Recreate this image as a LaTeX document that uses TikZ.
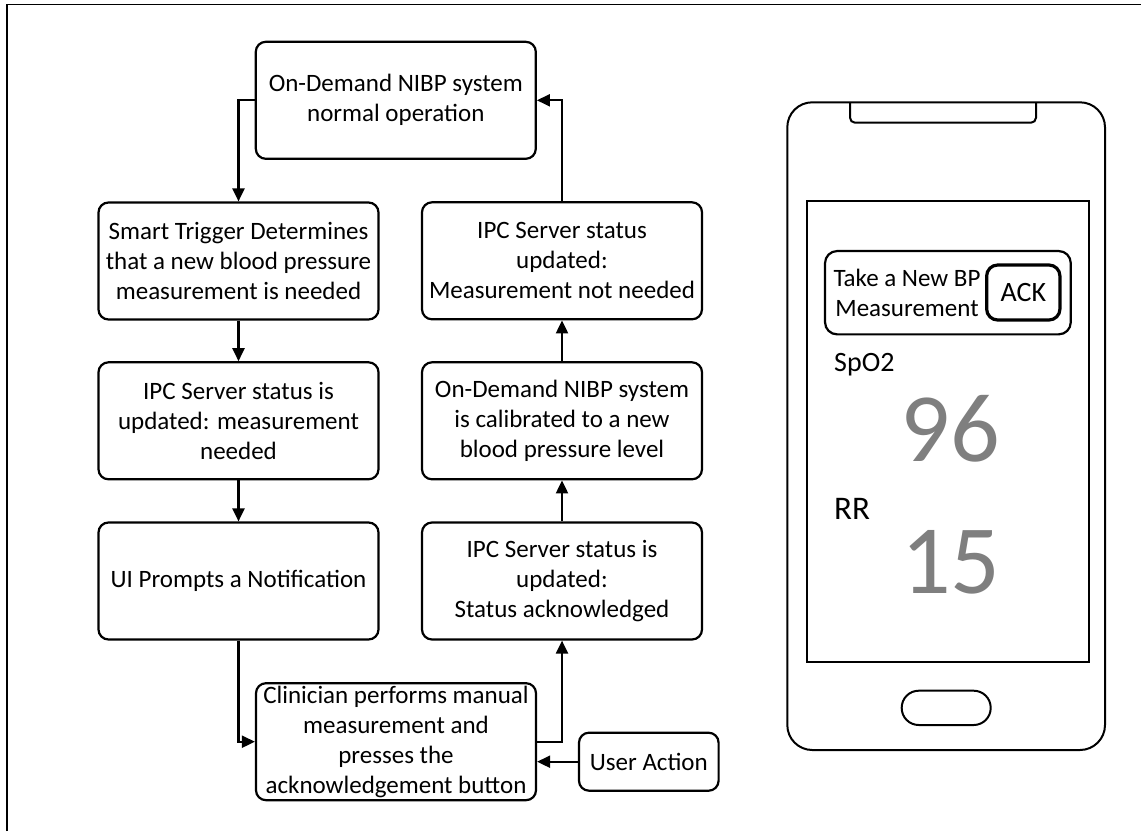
\documentclass[tikz,border=0pt]{standalone}
\usepackage{fontspec}
\setmainfont{Carlito}
\usetikzlibrary{arrows.meta}

\definecolor{valgray}{HTML}{7F7F7F}
\newcommand\boxfont{\fontsize{25}{30}\selectfont}

\begin{document}
\begin{tikzpicture}[x=1pt,y=-1pt,
  flow/.style={draw, line width=2.2pt, rounded corners=10pt, align=center,
    font=\boxfont, inner sep=0pt, minimum width=280pt, minimum height=117pt},
  conn/.style={line width=2.1pt, -{Triangle[length=13pt,width=12pt]}},
  phoneline/.style={line width=2pt},
  label/.style={inner sep=0pt, font=\boxfont, align=center},
  bigval/.style={inner sep=0pt, text=valgray, font=\fontsize{98}{98}\selectfont}
]
\useasboundingbox (0,0) rectangle (1141,831);

% frame lines along the top and left edges
\draw[line width=1.6pt] (7,831) -- (7,4.5) -- (1141,4.5);

% flowchart boxes
\node[flow] (top)  at (395.8,100.3) {On-Demand NIBP system\\normal operation};
\node[flow] (smart) at (238.5,261) {Smart Trigger Determines\\that a new blood pressure\\measurement is needed};
\node[flow] (ipcl) at (238.5,420.8) {IPC Server status is\\updated: measurement\\needed};
\node[flow] (ui)   at (238.5,581) {UI Prompts a Notification};
\node[flow] (clin) at (396,741.7) {Clinician performs manual\\measurement and\\presses the\\acknowledgement button};
\node[flow] (stat) at (562,581) {IPC Server status is\\updated:\\Status acknowledged};
\node[flow] (cal)  at (562,420.8) {On-Demand NIBP system\\is calibrated to a new\\blood pressure level};
\node[flow] (rtop) at (562,260.8) {IPC Server status\\updated:\\Measurement not needed};
\node[flow, minimum width=139.6pt, minimum height=58pt] (user) at (648.8,761.7) {User Action};

% connectors
\draw[conn] (top.west) -| (smart.north);
\draw[conn] (smart.south) -- (ipcl.north);
\draw[conn] (ipcl.south) -- (ui.north);
\draw[conn] (ui.south) |- (clin.west);
\draw[conn] (clin.east) -| (stat.south);
\draw[conn] (stat.north) -- (cal.south);
\draw[conn] (cal.north) -- (rtop.south);
\draw[conn] (rtop.north) |- (top.east);
\draw[conn] (user.west) -- (user.west -| clin.east);

% phone body, notch, screen and home button
\draw[phoneline, rounded corners=25pt] (787.3,102.3) rectangle (1105,750);
\draw[phoneline, rounded corners=5pt] (850,102.3) -- (850,122.7) -- (1036,122.7) -- (1036,102.3);
\draw[line width=2.3pt] (807.3,200.7) rectangle (1089,662.3);
\draw[phoneline, rounded corners=17pt] (901.7,690.7) rectangle (990.7,725);

% notification banner with its button
\node[draw, line width=2.2pt, rounded corners=12pt, minimum width=245.7pt,
  minimum height=83.3pt, inner sep=0pt] (banner) at (947.9,292.7) {};
\node[label] (prompt) at (907,293) {Take a New BP\\Measurement};
\node[draw, line width=3.2pt, rounded corners=11pt, minimum width=73.3pt,
  minimum height=55pt, inner sep=0pt, font=\fontsize{28}{30}\selectfont] (ack) at (1023.3,292.5) {ACK};

% vital signs
\node[inner sep=0pt, anchor=base west, font=\fontsize{28}{30}\selectfont] (spo) at (834,371.7) {SpO2};
\node[bigval, anchor=base] (spoval) at (950.3,461.7) {96};
\node[inner sep=0pt, anchor=base west, font=\fontsize{33}{36}\selectfont] (rr) at (834,519) {RR};
\node[bigval, anchor=base] (rrval) at (950.8,593.3) {15};
\end{tikzpicture}
\end{document}
